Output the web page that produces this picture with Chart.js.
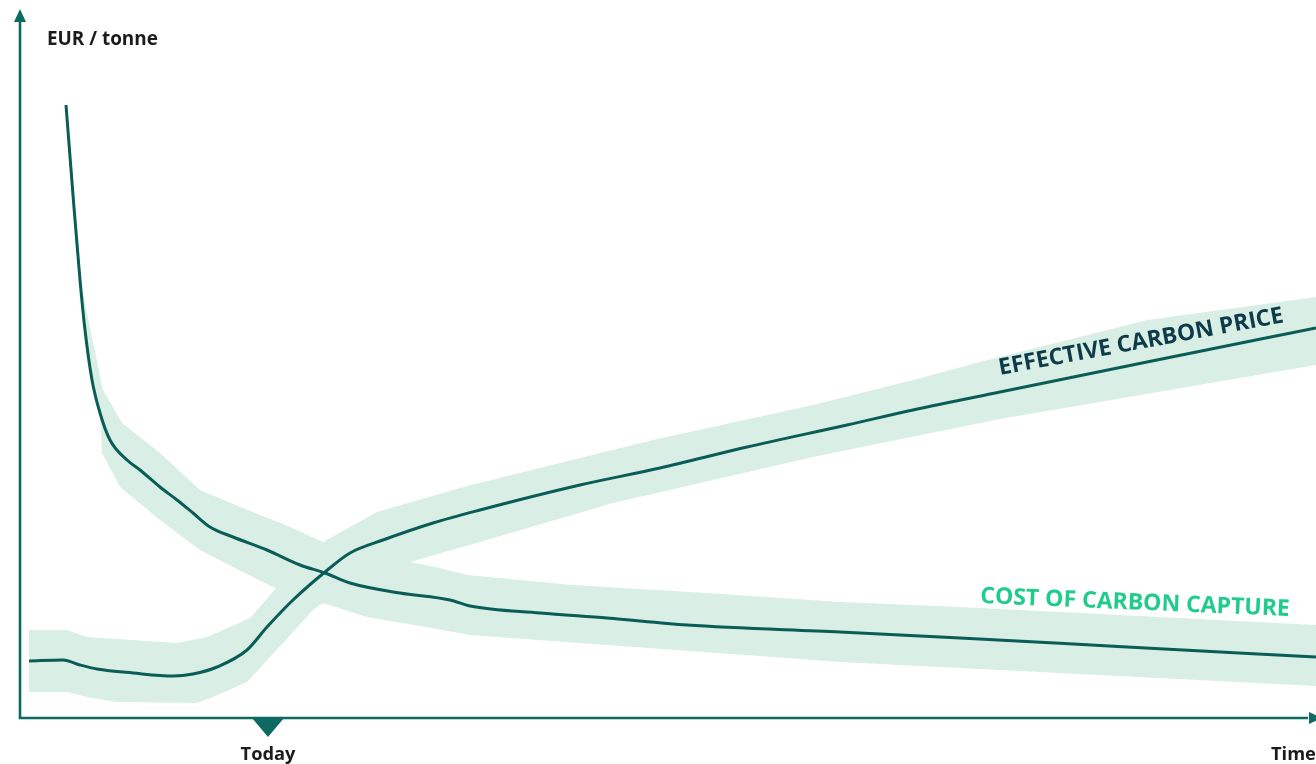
<!DOCTYPE html>
<html>
<head>
<meta charset="utf-8">
<script src="https://cdn.jsdelivr.net/npm/chart.js@4/dist/chart.umd.min.js"></script>
<style>
  html, body { margin: 0; padding: 0; background: #fff; }
  canvas { display: block; }
</style>
</head>
<body>
<canvas id="carbonChart" width="1316" height="764"></canvas>
<script>
// values (time units along x, EUR / tonne along y)
const costLine = [[46,613],[53,523],[60,438],[65,388],[72,338],[80,305],[90,278],[107,258],[120,248],[140,231],[157,218],[173,205],[190,191],[213,181],[247,168],[280,153],[305,145],[330,135],[380,125],[430,118],[450,112],[520,105],[587,100],[667,93],[820,86],[940,80],[1107,71],[1296,61]];
const costBandUpper = [[60,438],[67,405],[83,328],[102,295],[140,265],[180,228],[223,210],[270,191],[303,176],[360,162],[420,150],[447,143],[553,133],[687,125],[820,116],[940,111],[1080,104],[1296,93]];
const costBandLower = [[60,438],[72,338],[80,305],[81,288],[82,265],[100,231],[140,198],[180,168],[213,151],[253,131],[303,115],[347,101],[400,92],[450,83],[587,73],[753,61],[820,56],[1000,47],[1296,32]];

const priceLine = [[9,57],[43,58],[60,53],[77,49],[113,45],[153,42],[173,44],[197,51],[227,68],[247,91],[273,118],[305,146],[330,165],[363,178],[413,195],[460,208],[560,233],[640,250],[727,271],[827,293],[893,308],[980,326],[1127,356],[1296,390]];
const priceBandUpper = [[9,88],[47,88],[67,81],[157,75],[187,81],[230,100],[257,131],[280,153],[303,176],[357,206],[447,232],[633,278],[793,313],[893,338],[960,356],[1127,398],[1296,421]];
const priceBandLower = [[9,26],[47,26],[67,21],[97,16],[177,15],[193,21],[227,36],[263,75],[293,108],[320,128],[390,156],[460,176],[593,215],[793,261],[980,299],[1296,353]];

const xMax = 1296;
const yMax = 708;
const todayX = 248;

const yAxisTitle = "EUR / tonne";
const xAxisTitle = "Time";
const todayLabel = "Today";
const priceLabel = "EFFECTIVE CARBON PRICE";
const costLabel = "COST OF CARBON CAPTURE";

const axisColor = "#0d6a63";
const lineColor = "#0a5c56";
const bandColor = "#d9efe5";
const fontFamily = "'Open Sans', 'Noto Sans', sans-serif";

const toPoints = (arr) => arr.map(([x, y]) => ({ x, y }));

const band = (arr, fill) => ({
    data: toPoints(arr),
    borderWidth: 0,
    borderColor: "transparent",
    backgroundColor: bandColor,
    pointRadius: 0,
    tension: 0,
    fill,
});

const line = (arr) => ({
    data: toPoints(arr),
    borderWidth: 3,
    borderColor: lineColor,
    pointRadius: 0,
    cubicInterpolationMode: "monotone",
    fill: false,
});

function fitFont(ctx, text, width, weight) {
    ctx.font = `${weight} 20px ${fontFamily}`;
    const size = (20 * width) / ctx.measureText(text).width;
    return `${weight} ${size.toFixed(1)}px ${fontFamily}`;
}

function drawAlong(ctx, xs, ys, text, from, to, color) {
    const x1 = xs.getPixelForValue(from[0]), y1 = ys.getPixelForValue(from[1]);
    const x2 = xs.getPixelForValue(to[0]), y2 = ys.getPixelForValue(to[1]);
    const len = Math.hypot(x2 - x1, y2 - y1);
    ctx.save();
    ctx.translate(x1, y1);
    ctx.rotate(Math.atan2(y2 - y1, x2 - x1));
    ctx.font = fitFont(ctx, text, len, 700);
    ctx.fillStyle = color;
    ctx.textAlign = "left";
    ctx.textBaseline = "alphabetic";
    ctx.fillText(text, 0, 0);
    ctx.restore();
}

const axesPlugin = {
    id: "axesPlugin",
    afterDraw(chart) {
        const { ctx } = chart;
        const xs = chart.scales.x, ys = chart.scales.y;
        const x0 = xs.getPixelForValue(0);
        const xr = xs.getPixelForValue(xMax);
        const yb = ys.getPixelForValue(0);
        const yt = ys.getPixelForValue(yMax);

        ctx.save();
        ctx.strokeStyle = axisColor;
        ctx.fillStyle = axisColor;
        ctx.lineWidth = 2.6;
        ctx.beginPath();
        ctx.moveTo(x0, yt + 10);
        ctx.lineTo(x0, yb);
        ctx.lineTo(xr - 8, yb);
        ctx.stroke();

        // arrow heads
        ctx.beginPath();
        ctx.moveTo(x0, yt - 1);
        ctx.lineTo(x0 - 6, yt + 12);
        ctx.lineTo(x0 + 6, yt + 12);
        ctx.closePath();
        ctx.fill();
        ctx.beginPath();
        ctx.moveTo(xr + 6, yb);
        ctx.lineTo(xr - 7, yb - 6);
        ctx.lineTo(xr - 7, yb + 6);
        ctx.closePath();
        ctx.fill();

        // today marker
        const tx = xs.getPixelForValue(todayX);
        ctx.beginPath();
        ctx.moveTo(tx - 16, yb);
        ctx.lineTo(tx + 16, yb);
        ctx.lineTo(tx, yb + 19);
        ctx.closePath();
        ctx.fill();

        // axis texts
        ctx.fillStyle = "#1b1b1b";
        ctx.textBaseline = "alphabetic";
        ctx.textAlign = "left";
        ctx.font = fitFont(ctx, yAxisTitle, 111, 700);
        ctx.fillText(yAxisTitle, x0 + 27, yt + 35);

        ctx.textAlign = "center";
        ctx.font = fitFont(ctx, todayLabel, 55, 700);
        ctx.fillText(todayLabel, tx, yb + 42);

        ctx.textAlign = "left";
        ctx.fillText(xAxisTitle, xs.getPixelForValue(1251), yb + 42);
        ctx.restore();

        drawAlong(ctx, xs, ys, priceLabel, [980, 343], [1265, 396], "#0e3b4a");
        drawAlong(ctx, xs, ys, costLabel, [960, 115], [1270, 102], "#1fcc8c");
    },
};

new Chart(document.getElementById("carbonChart"), {
    type: "line",
    data: {
        datasets: [
            band(costBandUpper, "+1"),
            band(costBandLower, false),
            band(priceBandUpper, "+1"),
            band(priceBandLower, false),
            line(costLine),
            line(priceLine),
        ],
    },
    options: {
        responsive: false,
        animation: false,
        layout: { padding: { left: 20, top: 10, right: 0, bottom: 46 } },
        scales: {
            x: { type: "linear", min: 0, max: xMax, display: false },
            y: { type: "linear", min: 0, max: yMax, display: false },
        },
        plugins: {
            legend: { display: false },
            tooltip: { enabled: false },
            filler: { propagate: false, drawTime: "beforeDatasetsDraw" },
        },
    },
    plugins: [axesPlugin],
});
</script>
</body>
</html>
